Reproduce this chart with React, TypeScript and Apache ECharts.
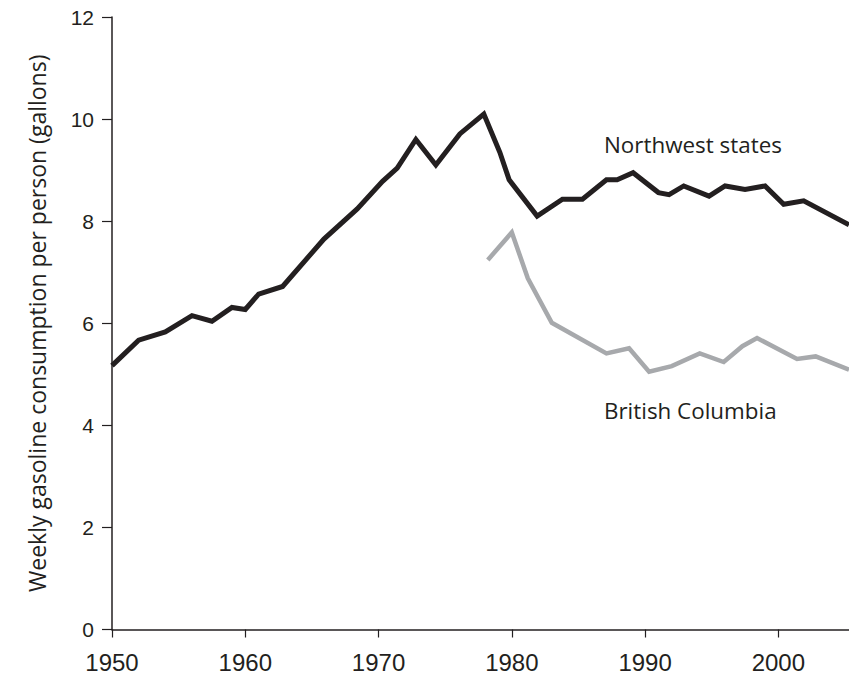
import React, { useEffect, useRef } from "react";
import * as echarts from "echarts";

const xTickValues = [1950, 1960, 1970, 1980, 1990, 2000];
const yTickValues = [0, 2, 4, 6, 8, 10, 12];

const northwestYears = [
  1950, 1952, 1954, 1956, 1957.5, 1959, 1960, 1961, 1962.8, 1965.9, 1968.4, 1970.3,
  1971.4, 1972.8, 1974.3, 1976.1, 1977.9, 1979.1, 1979.8, 1981.9, 1983.8, 1985.3,
  1987.1, 1987.9, 1989.1, 1991.0, 1991.8, 1992.9, 1994.8, 1996.0, 1997.5, 1999.0,
  2000.4, 2001.9, 2005.3,
];
const northwestValues = [
  5.17, 5.67, 5.83, 6.15, 6.04, 6.31, 6.27, 6.57, 6.72, 7.65, 8.24, 8.78,
  9.04, 9.6, 9.1, 9.71, 10.1, 9.35, 8.81, 8.1, 8.43, 8.43,
  8.81, 8.81, 8.95, 8.56, 8.52, 8.69, 8.49, 8.69, 8.62, 8.69,
  8.33, 8.4, 7.93,
];

const bcYears = [
  1978.2, 1980.0, 1981.2, 1983.0, 1987.1, 1988.8, 1990.3, 1992.0, 1994.1, 1995.9,
  1997.3, 1998.4, 2001.4, 2002.8, 2005.3,
];
const bcValues = [
  7.24, 7.78, 6.88, 6.01, 5.41, 5.51, 5.05, 5.16, 5.41, 5.24,
  5.55, 5.71, 5.3, 5.35, 5.09,
];

const seriesNames = ["Northwest states", "British Columbia"];
const yAxisTitle = "Weekly gasoline consumption per person (gallons)";

const INK = "#231f20";
const GRAY = "#a7a9ac";
const SANS = "'Open Sans', sans-serif";

export default function App() {
  const ref = useRef<HTMLDivElement>(null);

  useEffect(() => {
    if (!ref.current) return;
    const chart = echarts.init(ref.current, null, { renderer: "svg" });
    const nw = northwestYears.map((x, i) => [x, northwestValues[i]]);
    const bc = bcYears.map((x, i) => [x, bcValues[i]]);

    chart.setOption({
      animation: false,
      backgroundColor: "#ffffff",
      grid: { left: 112, right: 0, top: 17, bottom: 46.5, containLabel: false },
      xAxis: {
        type: "value",
        min: 1950,
        max: 2005.3,
        interval: 10,
        splitLine: { show: false },
        axisLine: { show: true, lineStyle: { color: INK, width: 1.5 } },
        axisTick: {
          show: true,
          length: 8,
          lineStyle: { color: INK, width: 1.2 },
          customValues: xTickValues,
        },
        axisLabel: {
          color: INK,
          fontSize: 24,
          fontFamily: "'Liberation Sans', sans-serif",
          margin: 21,
          customValues: xTickValues,
          formatter: (v: number) => (xTickValues.indexOf(v) >= 0 ? String(v) : ""),
        },
      },
      yAxis: {
        type: "value",
        min: 0,
        max: 12,
        interval: 2,
        name: yAxisTitle,
        nameLocation: "middle",
        nameGap: 64,
        nameTextStyle: {
          color: INK,
          fontSize: 23,
          fontFamily: SANS,
        },
        splitLine: { show: false },
        axisLine: { show: true, lineStyle: { color: INK, width: 1.5 } },
        axisTick: {
          show: true,
          length: 10,
          lineStyle: { color: INK, width: 1.2 },
          customValues: yTickValues,
        },
        axisLabel: {
          color: INK,
          fontSize: 21,
          fontFamily: "'Liberation Sans', sans-serif",
          margin: 18,
          customValues: yTickValues,
        },
      },
      series: [
        {
          name: seriesNames[0],
          type: "line",
          data: nw,
          showSymbol: false,
          symbol: "none",
          lineStyle: { color: INK, width: 5, join: "miter" },
          clip: true,
        },
        {
          name: seriesNames[1],
          type: "line",
          data: bc,
          showSymbol: false,
          symbol: "none",
          lineStyle: { color: GRAY, width: 4.5, join: "miter" },
          clip: true,
        },
      ],
      graphic: [
        {
          type: "text",
          x: 604,
          y: 144,
          style: {
            text: seriesNames[0],
            fill: INK,
            fontSize: 22.4,
            fontFamily: SANS,
            verticalAlign: "middle",
            align: "left",
          },
        },
        {
          type: "text",
          x: 604,
          y: 410,
          style: {
            text: seriesNames[1],
            fill: INK,
            fontSize: 22.4,
            fontFamily: SANS,
            verticalAlign: "middle",
            align: "left",
          },
        },
      ],
    });

    return () => chart.dispose();
  }, []);

  return (
    <div
      ref={ref}
      style={{ position: "absolute", left: 0, top: 0, width: 849, height: 676 }}
    />
  );
}
